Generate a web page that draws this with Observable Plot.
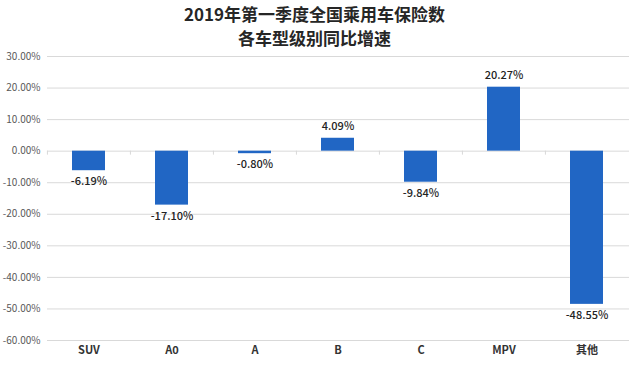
<!DOCTYPE html>
<html>
<head>
<meta charset="utf-8">
<script src="https://cdn.jsdelivr.net/npm/d3@7"></script>
<script src="https://cdn.jsdelivr.net/npm/@observablehq/plot@0.6"></script>
<style>
  html, body { margin: 0; padding: 0; background: #fff; }
  #title {
    width: 629px; height: 46px; box-sizing: border-box; padding-top: 2px;
    text-align: center; font-family: "Noto Sans CJK SC", sans-serif;
    font-weight: bold; font-size: 17px; line-height: 24px; color: #262626;
    overflow: visible;
  }
  #title div { height: 24px; }
</style>
</head>
<body>
<div id="title"><div>2019年第一季度全国乘用车保险数</div><div>各车型级别同比增速</div></div>
<div id="chart"></div>
<script>
const categories = ["SUV", "A0", "A", "B", "C", "MPV", "其他"];
const growth = [-6.19, -17.10, -0.80, 4.09, -9.84, 20.27, -48.55];
const yTicks = [30, 20, 10, 0, -10, -20, -30, -40, -50, -60];

const data = categories.map((c, i) => ({category: c, value: growth[i]}));
const fmt = v => v.toFixed(2) + "%";

const W = 629, H = 323;
const mL = 47, mR = 0;
const bw = (W - mL - mR) / categories.length;

const chart = Plot.plot({
  width: W,
  height: H,
  marginTop: 10,
  marginBottom: 29,
  marginLeft: mL,
  marginRight: mR,
  style: {fontFamily: "'Noto Sans CJK SC', sans-serif", background: "#fff"},
  x: {domain: categories, paddingInner: 0.6, paddingOuter: 0.3, label: null},
  y: {domain: [-60, 30], label: null},
  marks: [
    Plot.ruleY(yTicks, {stroke: "#d9d9d9", strokeWidth: 1}),
    Plot.ruleX(categories, {x: d => d, dx: -bw / 2, y1: 0, y2: 0, insetBottom: -4, stroke: "#d9d9d9"}),
    Plot.barY(data, {x: "category", y: "value", fill: "#2166c4"}),
    Plot.text(data.filter(d => d.value >= 0), {x: "category", y: "value", text: d => fmt(d.value), dy: -12, fontSize: 11, fill: "#222", fontWeight: 500}),
    Plot.text(data.filter(d => d.value < 0), {x: "category", y: "value", text: d => fmt(d.value), dy: 11, fontSize: 11, fill: "#222", fontWeight: 500}),
    Plot.axisY(yTicks, {tickSize: 0, tickPadding: 7, tickFormat: fmt, fontSize: 10, fill: "#595959", label: null}),
    Plot.axisX({tickSize: 0, tickPadding: 6, fontSize: 11, fontWeight: "bold", fill: "#333", label: null})
  ]
});
document.getElementById("chart").appendChild(chart);
</script>
</body>
</html>
